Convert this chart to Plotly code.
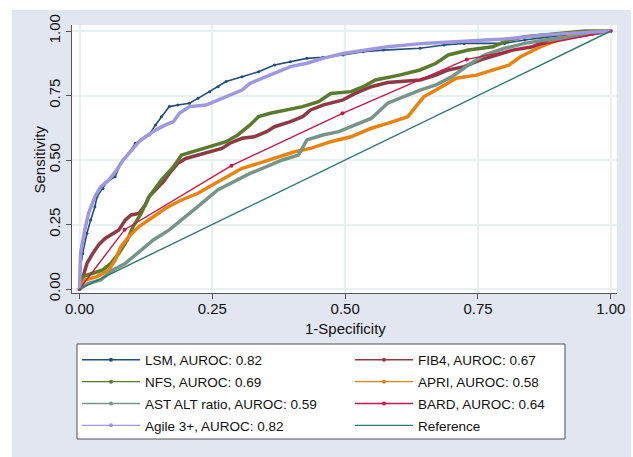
import plotly.graph_objects as go

# ---------------- data ----------------
lsm_x = [0, 0.002, 0.006, 0.014, 0.021, 0.029, 0.033, 0.044, 0.052, 0.067, 0.078, 0.093, 0.105, 0.116,
         0.131, 0.143, 0.154, 0.169, 0.185, 0.207, 0.223, 0.245, 0.261, 0.276, 0.306, 0.337, 0.367,
         0.397, 0.428, 0.458, 0.496, 0.534, 0.572, 0.641, 0.686, 0.724, 0.800, 0.838, 0.914, 1.0]
lsm_y = [0, 0.087, 0.138, 0.216, 0.267, 0.319, 0.358, 0.390, 0.416, 0.435, 0.487, 0.526, 0.565, 0.578,
         0.597, 0.636, 0.668, 0.707, 0.713, 0.720, 0.739, 0.765, 0.784, 0.804, 0.823, 0.842, 0.868,
         0.881, 0.894, 0.898, 0.907, 0.920, 0.926, 0.933, 0.946, 0.952, 0.952, 0.965, 0.985, 1.0]

agile_x = [0, 0.002, 0.010, 0.017, 0.029, 0.040, 0.055, 0.070, 0.082, 0.093, 0.112, 0.124, 0.143,
           0.162, 0.177, 0.188, 0.207, 0.238, 0.261, 0.283, 0.306, 0.321, 0.344, 0.367, 0.397, 0.428,
           0.458, 0.496, 0.534, 0.580, 0.648, 0.724, 0.800, 0.876, 1.0]
agile_y = [0, 0.138, 0.229, 0.293, 0.358, 0.397, 0.422, 0.461, 0.500, 0.526, 0.571, 0.590, 0.616,
           0.636, 0.649, 0.681, 0.707, 0.713, 0.733, 0.752, 0.771, 0.797, 0.817, 0.836, 0.862, 0.875,
           0.894, 0.913, 0.926, 0.939, 0.952, 0.959, 0.969, 0.985, 1.0]

fib4_x = [0, 0.006, 0.014, 0.025, 0.036, 0.048, 0.059, 0.074, 0.086, 0.097, 0.112, 0.124, 0.131,
          0.146, 0.158, 0.169, 0.185, 0.200, 0.223, 0.245, 0.268, 0.283, 0.306, 0.329, 0.352, 0.367,
          0.397, 0.420, 0.435, 0.458, 0.496, 0.519, 0.549, 0.580, 0.610, 0.641, 0.671, 0.694, 0.724,
          0.755, 0.785, 0.815, 0.853, 0.884, 1.0]
fib4_y = [0, 0.048, 0.099, 0.138, 0.171, 0.196, 0.209, 0.229, 0.267, 0.287, 0.293, 0.326, 0.358,
          0.390, 0.416, 0.448, 0.487, 0.506, 0.519, 0.532, 0.545, 0.565, 0.584, 0.590, 0.610, 0.629,
          0.649, 0.668, 0.694, 0.713, 0.733, 0.758, 0.784, 0.800, 0.804, 0.810, 0.829, 0.849, 0.862,
          0.888, 0.907, 0.926, 0.939, 0.965, 1.0]

nfs_x = [0, 0.006, 0.025, 0.044, 0.059, 0.074, 0.090, 0.101, 0.116, 0.131, 0.154, 0.177, 0.192,
         0.215, 0.245, 0.276, 0.298, 0.321, 0.337, 0.359, 0.390, 0.420, 0.450, 0.473, 0.511, 0.534,
         0.557, 0.602, 0.641, 0.671, 0.694, 0.732, 0.778, 0.808, 0.838, 0.914, 0.952, 1.0]
nfs_y = [0, 0.048, 0.061, 0.074, 0.099, 0.138, 0.190, 0.242, 0.293, 0.358, 0.422, 0.474, 0.519,
         0.532, 0.552, 0.571, 0.597, 0.636, 0.668, 0.681, 0.694, 0.707, 0.726, 0.758, 0.765, 0.784,
         0.810, 0.829, 0.849, 0.875, 0.907, 0.926, 0.939, 0.965, 0.978, 0.991, 1.0, 1.0]

apri_x = [0, 0.010, 0.033, 0.055, 0.067, 0.078, 0.093, 0.112, 0.139, 0.162, 0.192, 0.223, 0.245,
          0.276, 0.306, 0.337, 0.367, 0.405, 0.435, 0.473, 0.511, 0.549, 0.580, 0.618, 0.633, 0.648,
          0.671, 0.709, 0.747, 0.778, 0.808, 0.830, 0.868, 0.899, 0.944, 1.0]
apri_y = [0, 0.035, 0.048, 0.074, 0.112, 0.164, 0.203, 0.242, 0.280, 0.313, 0.345, 0.371, 0.397,
          0.435, 0.468, 0.487, 0.506, 0.532, 0.545, 0.571, 0.590, 0.623, 0.642, 0.668, 0.707, 0.745,
          0.771, 0.817, 0.829, 0.849, 0.868, 0.900, 0.939, 0.965, 0.991, 1.0]

ast_x = [0, 0.017, 0.040, 0.063, 0.086, 0.109, 0.139, 0.169, 0.200, 0.230, 0.260, 0.291, 0.321,
         0.352, 0.382, 0.412, 0.428, 0.458, 0.488, 0.519, 0.549, 0.580, 0.610, 0.641, 0.671, 0.701,
         0.732, 0.762, 0.800, 0.838, 0.876, 0.914, 1.0]
ast_y = [0, 0.022, 0.035, 0.074, 0.099, 0.138, 0.190, 0.229, 0.280, 0.332, 0.384, 0.416, 0.448,
         0.474, 0.500, 0.519, 0.578, 0.597, 0.610, 0.636, 0.661, 0.720, 0.745, 0.771, 0.791, 0.823,
         0.868, 0.907, 0.933, 0.952, 0.965, 0.972, 1.0]

bard_x = [0, 0.085, 0.286, 0.495, 0.729, 1.0]
bard_y = [0, 0.230, 0.478, 0.681, 0.890, 1.0]

ref_x = [0, 1]
ref_y = [0, 1]

names = ["LSM, AUROC: 0.82", "FIB4, AUROC: 0.67", "NFS, AUROC: 0.69", "APRI, AUROC: 0.58",
         "AST ALT ratio, AUROC: 0.59", "BARD, AUROC: 0.64", "Agile 3+, AUROC: 0.82", "Reference"]
colors = ["#1f4e79", "#8e3a44", "#5a7b2e", "#e8830f", "#76958a", "#c8174a", "#9f97e0", "#2e7a6d"]
xs = [lsm_x, fib4_x, nfs_x, apri_x, ast_x, bard_x, agile_x, ref_x]
ys = [lsm_y, fib4_y, nfs_y, apri_y, ast_y, bard_y, agile_y, ref_y]

tick_vals = [0, 0.25, 0.5, 0.75, 1.0]
tick_text = ["0.00", "0.25", "0.50", "0.75", "1.00"]
x_title = "1-Specificity"
y_title = "Sensitivity"

# ---------------- figure ----------------
W, H = 633, 457
L, R, T, B = 72, 617, 25, 293
pw, ph = R - L, B - T


def px(x):
    return (x - L) / pw


def py(y):
    return (B - y) / ph


def cx(x):
    return x / W


def cy(y):
    return 1 - y / H


FONT = "Liberation Sans, Arial, Helvetica, sans-serif"
fig = go.Figure()

styles = {
    0: dict(mode="lines+markers", line=dict(width=1.6), marker=dict(size=3)),
    1: dict(mode="lines", line=dict(width=3.5)),
    2: dict(mode="lines", line=dict(width=3.5)),
    3: dict(mode="lines", line=dict(width=3.5)),
    4: dict(mode="lines", line=dict(width=3.5)),
    5: dict(mode="lines+markers", line=dict(width=1.4), marker=dict(size=4)),
    6: dict(mode="lines", line=dict(width=3.5)),
    7: dict(mode="lines", line=dict(width=1.4)),
}

for i in range(8):
    st = styles[i]
    line = dict(st["line"], color=colors[i])
    kw = dict(x=xs[i], y=ys[i], mode=st["mode"], line=line, showlegend=False, hoverinfo="skip")
    if "marker" in st:
        kw["marker"] = dict(st["marker"], color=colors[i])
    fig.add_trace(go.Scatter(**kw))

# legend entries (thin line with a dot, as in the reference)
for i in range(8):
    col1 = i % 2 == 0
    fig.add_trace(go.Scatter(
        x=[None], y=[None], name=names[i],
        mode="lines" if i == 7 else "lines+markers",
        line=dict(color=colors[i], width=1.4),
        marker=dict(color=colors[i], size=4),
        legend="legend" if col1 else "legend2",
        legendgroup=str(i),
    ))

bg = "#e2e6f0"
shapes = [
    # white outer strips
    dict(type="rect", xref="paper", yref="paper", x0=px(0), x1=px(W), y0=py(10), y1=py(0),
         fillcolor="white", line=dict(width=0), layer="below"),
    dict(type="rect", xref="paper", yref="paper", x0=px(0), x1=px(12), y0=py(H), y1=py(0),
         fillcolor="white", line=dict(width=0), layer="below"),
    dict(type="rect", xref="paper", yref="paper", x0=px(631), x1=px(W), y0=py(H), y1=py(0),
         fillcolor="white", line=dict(width=0), layer="below"),
    # legend box
    dict(type="rect", xref="paper", yref="paper", x0=px(77), x1=px(565), y0=py(439), y1=py(344),
         fillcolor="white", line=dict(width=1, color="#505050"), layer="below"),
]

leg_common = dict(bgcolor="rgba(0,0,0,0)", borderwidth=0, font=dict(family=FONT, size=13.5, color="#111"),
                  itemwidth=58, tracegroupgap=1.3, xanchor="left", yanchor="top", orientation="v",
                  traceorder="grouped", xref="container", yref="container")

annotations = [
    dict(text=x_title, xref="paper", yref="paper", x=px(345), y=py(328), xanchor="center",
         yanchor="middle", showarrow=False, font=dict(size=15)),
    dict(text=y_title, xref="paper", yref="paper", x=px(38.5), y=py(160), xanchor="center",
         yanchor="middle", showarrow=False, textangle=-90, font=dict(size=15)),
]

fig.update_layout(
    width=W, height=H,
    margin=dict(l=L, r=W - R, t=T, b=H - B, pad=0, autoexpand=False),
    paper_bgcolor=bg, plot_bgcolor="white",
    font=dict(family=FONT, size=15, color="#111"),
    shapes=shapes,
    annotations=annotations,
    legend=dict(leg_common, x=cx(77), y=cy(344.5)),
    legend2=dict(leg_common, x=cx(350), y=cy(344.5)),
    xaxis=dict(range=[(L - 79.5) / 531.3, (R - 79.5) / 531.3], tickvals=tick_vals, ticktext=tick_text,
               showgrid=True, gridcolor="#e8f0f0", gridwidth=1.5, zeroline=False, automargin=False,
               showline=True, linecolor="#555", linewidth=1, ticks="outside", ticklen=5,
               tickcolor="#555", tickfont=dict(size=15), ticklabelstandoff=-3),
    yaxis=dict(range=[(289 - B) / 258, (289 - T) / 258], tickvals=tick_vals, ticktext=tick_text,
               showgrid=True, gridcolor="#e8f0f0", gridwidth=1.5, zeroline=False, automargin=False,
               showline=True, linecolor="#555", linewidth=1, ticks="outside", ticklen=5,
               tickcolor="#555", tickfont=dict(size=15), tickangle=-90),
)

fig.write_html("out.html", config={"displayModeBar": False},
               post_script="document.body.style.margin='0';document.body.style.overflow='hidden';")
